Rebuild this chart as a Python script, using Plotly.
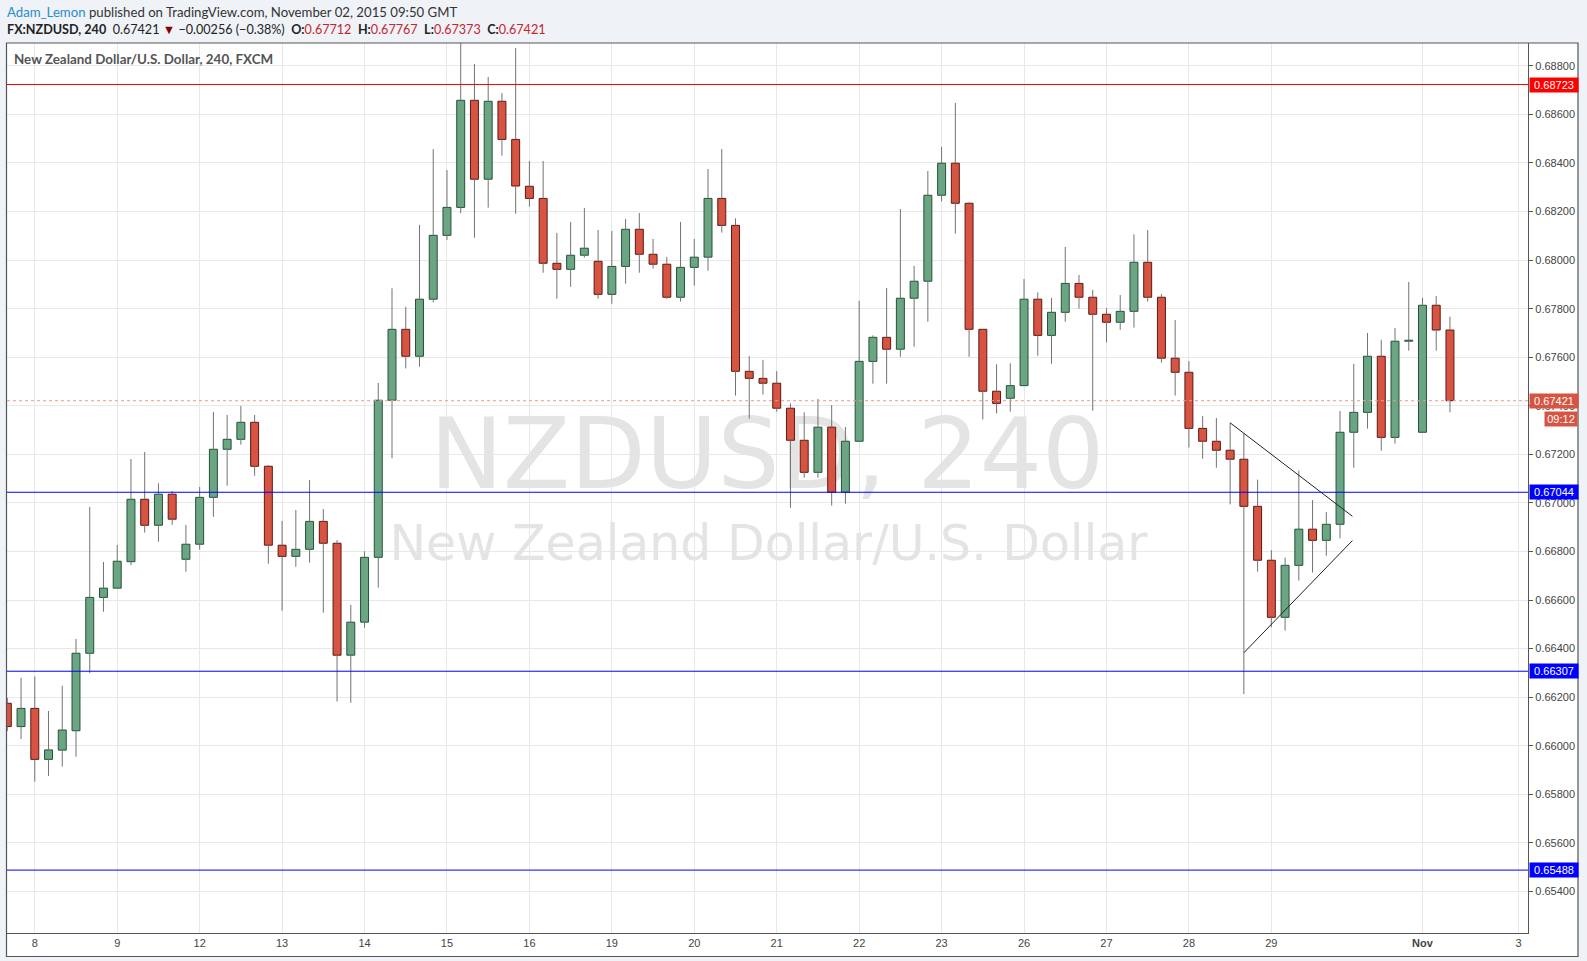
import plotly.graph_objects as go

# ---------------- data (NZDUSD, 4h candles, Oct 7 - Nov 2 2015) ----------------
opens = [0.66175, 0.66079, 0.66154, 0.65944, 0.65982, 0.66062, 0.66381, 0.66611, 0.66649, 0.66758,
         0.67015, 0.66908, 0.67036, 0.66768, 0.66830, 0.67023, 0.67221, 0.67262, 0.67332, 0.67151,
         0.66826, 0.66780, 0.66809, 0.66924, 0.66834, 0.66373, 0.66509, 0.66776, 0.67423, 0.67715,
         0.67604, 0.67839, 0.68102, 0.68217, 0.68658, 0.68333, 0.68654, 0.68497, 0.68304, 0.68254,
         0.67987, 0.67962, 0.68020, 0.67995, 0.67859, 0.67974, 0.68127, 0.68024, 0.67983, 0.67847,
         0.67970, 0.68012, 0.68254, 0.68143, 0.67542, 0.67513, 0.67493, 0.67390, 0.67258, 0.67126,
         0.67312, 0.67044, 0.67254, 0.67583, 0.67682, 0.67633, 0.67843, 0.67913, 0.68267, 0.68399,
         0.68234, 0.67715, 0.67460, 0.67431, 0.67483, 0.67839, 0.67690, 0.67785, 0.67904, 0.67847,
         0.67777, 0.67744, 0.67789, 0.67991, 0.67847, 0.67596, 0.67538, 0.67307, 0.67254, 0.67217,
         0.67180, 0.66986, 0.66764, 0.66529, 0.66743, 0.66892, 0.66846, 0.66912, 0.67291, 0.67373,
         0.67604, 0.67270, 0.67666, 0.67291, 0.67814, 0.67712]
highs = [0.66197, 0.66280, 0.66285, 0.66143, 0.66247, 0.66440, 0.66983, 0.66757, 0.66827, 0.67181,
         0.67210, 0.67081, 0.67049, 0.66909, 0.67066, 0.67375, 0.67362, 0.67399, 0.67362, 0.67156,
         0.66926, 0.66971, 0.67094, 0.66975, 0.66847, 0.66580, 0.66801, 0.67494, 0.67884, 0.67808,
         0.68145, 0.68457, 0.68371, 0.68930, 0.68808, 0.68754, 0.68688, 0.68873, 0.68408, 0.68408,
         0.68112, 0.68157, 0.68215, 0.68124, 0.68120, 0.68169, 0.68194, 0.68087, 0.68013, 0.68157,
         0.68087, 0.68375, 0.68457, 0.68172, 0.67605, 0.67589, 0.67543, 0.67410, 0.67373, 0.67428,
         0.67403, 0.67313, 0.67832, 0.67690, 0.67885, 0.68210, 0.67976, 0.68367, 0.68466, 0.68647,
         0.68238, 0.67716, 0.67571, 0.67575, 0.67922, 0.67867, 0.67844, 0.68054, 0.67939, 0.67877,
         0.67802, 0.67856, 0.68106, 0.68124, 0.67860, 0.67753, 0.67584, 0.67358, 0.67350, 0.67330,
         0.67287, 0.67096, 0.66806, 0.66775, 0.67133, 0.67012, 0.66963, 0.67379, 0.67573, 0.67700,
         0.67672, 0.67720, 0.67910, 0.67844, 0.67852, 0.67767]
lows = [0.66061, 0.66028, 0.65852, 0.65876, 0.65914, 0.65955, 0.66299, 0.66552, 0.66648, 0.66744,
        0.66878, 0.66840, 0.66910, 0.66717, 0.66808, 0.66943, 0.67071, 0.67240, 0.67112, 0.66750,
        0.66556, 0.66737, 0.66754, 0.66548, 0.66182, 0.66177, 0.66486, 0.66651, 0.67184, 0.67554,
        0.67561, 0.67826, 0.68083, 0.68193, 0.68092, 0.68216, 0.68430, 0.68191, 0.68220, 0.67948,
        0.67841, 0.67890, 0.68010, 0.67841, 0.67820, 0.67903, 0.67948, 0.67965, 0.67841, 0.67829,
        0.67895, 0.67956, 0.68113, 0.67442, 0.67347, 0.67446, 0.67376, 0.66980, 0.67104, 0.67104,
        0.66989, 0.66997, 0.67253, 0.67491, 0.67491, 0.67602, 0.67643, 0.67746, 0.68242, 0.68109,
        0.67602, 0.67344, 0.67369, 0.67376, 0.67482, 0.67606, 0.67573, 0.67746, 0.67800, 0.67380,
        0.67661, 0.67713, 0.67722, 0.67829, 0.67578, 0.67442, 0.67228, 0.67182, 0.67145, 0.66994,
        0.66213, 0.66717, 0.66488, 0.66474, 0.66680, 0.66713, 0.66783, 0.66854, 0.67145, 0.67306,
        0.67215, 0.67244, 0.67627, 0.67290, 0.67627, 0.67373]
closes = [0.66079, 0.66154, 0.65944, 0.65983, 0.66065, 0.66381, 0.66611, 0.66649, 0.66760, 0.67015,
          0.66908, 0.67036, 0.66933, 0.66830, 0.67023, 0.67221, 0.67262, 0.67332, 0.67151, 0.66826,
          0.66780, 0.66809, 0.66924, 0.66834, 0.66373, 0.66509, 0.66776, 0.67423, 0.67715, 0.67604,
          0.67839, 0.68102, 0.68217, 0.68658, 0.68333, 0.68654, 0.68497, 0.68305, 0.68254, 0.67987,
          0.67962, 0.68020, 0.68049, 0.67859, 0.67974, 0.68127, 0.68024, 0.67983, 0.67847, 0.67970,
          0.68012, 0.68254, 0.68143, 0.67542, 0.67513, 0.67493, 0.67390, 0.67258, 0.67126, 0.67312,
          0.67044, 0.67254, 0.67583, 0.67682, 0.67633, 0.67843, 0.67913, 0.68267, 0.68399, 0.68234,
          0.67715, 0.67460, 0.67410, 0.67483, 0.67839, 0.67690, 0.67785, 0.67904, 0.67847, 0.67777,
          0.67744, 0.67789, 0.67991, 0.67847, 0.67596, 0.67538, 0.67307, 0.67254, 0.67217, 0.67180,
          0.66986, 0.66764, 0.66529, 0.66743, 0.66892, 0.66846, 0.66912, 0.67291, 0.67373, 0.67604,
          0.67270, 0.67666, 0.67670, 0.67814, 0.67712, 0.67421]

# day labels (candle index of first bar of each day)
tick_index = [2, 8, 14, 20, 26, 32, 38, 44, 50, 56, 62, 68, 74, 80, 86, 92, 103, 110]
tick_text = ["8", "9", "12", "13", "14", "15", "16", "19", "20", "21", "22", "23", "26", "27",
             "28", "29", "<b>Nov</b>", "3"]

# horizontal levels drawn on the chart
resistance_level = 0.68723
support_levels = [0.67044, 0.66307, 0.65488]
last_price = 0.67421
countdown_text = "09:12"

# triangle drawing (candle index, price)
tri_upper_x = [89.0, 97.9]
tri_upper_y = [0.67330, 0.66945]
tri_lower_x = [90.0, 97.9]
tri_lower_y = [0.66383, 0.66845]

price_ticks = [0.654 + 0.002 * k for k in range(18)]

# ---------------- styling ----------------
W, H = 1587, 961
L, R, T, B = 7, 59, 43, 28
PW, PH = W - L - R, H - T - B

def xp(px):
    return (px - L) / PW

def yp(py):
    return (H - B - py) / PH

GREEN, GREEN_LINE = "#6ba583", "#225437"
RED, RED_LINE = "#d75442", "#5b1a13"
WICK = "#737375"
AX = "#555555"
GRID = "#e8e8e8"
BG = "#eff2f6"

idx = list(range(len(opens)))
is_up = [c >= o for o, c in zip(opens, closes)]
bases = [min(o, c) for o, c in zip(opens, closes)]
heights = [max(abs(c - o), 0.00003) for o, c in zip(opens, closes)]

wx, wy = [], []
for i, o, h, l, c in zip(idx, opens, highs, lows, closes):
    wx += [i, i, None, i, i, None]
    wy += [h, max(o, c), None, min(o, c), l, None]

xr = [-0.022, 110.68]
yr = [0.65229, 0.68894]

fig = go.Figure()

# watermark on the base axes (drawn beneath the candles)
fig.add_trace(go.Scatter(
    x=[55.3], y=[0.67162], mode="text", text=["NZDUSD, 240"],
    textfont=dict(family="DejaVu Sans", size=98, color="#e4e4e4"),
    textposition="middle center", hoverinfo="skip", showlegend=False, xaxis="x", yaxis="y"))
fig.add_trace(go.Scatter(
    x=[55.4], y=[0.66814], mode="text", text=["New Zealand Dollar/U.S. Dollar"],
    textfont=dict(family="DejaVu Sans", size=49, color="#e4e4e4"),
    textposition="middle center", hoverinfo="skip", showlegend=False, xaxis="x", yaxis="y"))

# candles on overlay axes
fig.add_trace(go.Scatter(
    x=wx, y=wy, mode="lines", line=dict(color=WICK, width=1),
    hoverinfo="skip", showlegend=False, xaxis="x2", yaxis="y2"))
fig.add_trace(go.Bar(
    x=idx, y=heights, base=bases, width=0.58,
    marker=dict(color=[GREEN if u else RED for u in is_up],
                line=dict(color=[GREEN_LINE if u else RED_LINE for u in is_up], width=1)),
    hoverinfo="skip", showlegend=False, xaxis="x2", yaxis="y2"))

# triangle drawing
fig.add_trace(go.Scatter(x=tri_upper_x, y=tri_upper_y, mode="lines",
                         line=dict(color="#222222", width=1), hoverinfo="skip",
                         showlegend=False, xaxis="x2", yaxis="y2"))
fig.add_trace(go.Scatter(x=tri_lower_x, y=tri_lower_y, mode="lines",
                         line=dict(color="#222222", width=1), hoverinfo="skip",
                         showlegend=False, xaxis="x2", yaxis="y2"))

shapes = [
    dict(type="rect", xref="paper", yref="paper", x0=xp(6.5), x1=xp(1578), y0=yp(956.5), y1=yp(43),
         fillcolor="white", line=dict(width=0), layer="below"),
    dict(type="rect", xref="paper", yref="paper", x0=xp(6.5), x1=xp(1578), y0=yp(956.5), y1=yp(43),
         fillcolor="rgba(0,0,0,0)", line=dict(color=AX, width=1.2), layer="above"),
    dict(type="line", xref="paper", yref="y", x0=0, x1=1, y0=last_price, y1=last_price,
         line=dict(color="#eb9a90", width=1, dash="dot"), layer="above"),
    dict(type="line", xref="paper", yref="y", x0=0, x1=1, y0=resistance_level, y1=resistance_level,
         line=dict(color="#ff0000", width=1), layer="above"),
]
for lv in support_levels:
    shapes.append(dict(type="line", xref="paper", yref="y", x0=0, x1=1, y0=lv, y1=lv,
                       line=dict(color="#0000ff", width=1), layer="above"))

annotations = []

def price_box(val, bg, yshift=0, text=None, width=46):
    annotations.append(dict(
        xref="paper", yref="y", x=1, y=val, xanchor="left", yanchor="middle",
        text=text if text is not None else f"{val:.5f}", showarrow=False,
        font=dict(family="Liberation Sans, Arial", size=11, color="white"),
        bgcolor=bg, width=width, height=12, borderpad=1, yshift=yshift, xshift=1, align="center"))

price_box(resistance_level, "#ff0000")
for lv in support_levels:
    price_box(lv, "#0000ff")
price_box(last_price, "#d75442")
annotations.append(dict(
    xref="paper", yref="y", x=xp(1578), y=last_price, xanchor="right", yanchor="middle",
    text=countdown_text, showarrow=False,
    font=dict(family="Liberation Sans, Arial", size=11, color="white"),
    bgcolor="#d75442", width=30, height=12, borderpad=1, yshift=-18, align="center"))

# titles
annotations.append(dict(
    xref="paper", yref="paper", x=xp(12), y=yp(59), xanchor="left", yanchor="middle",
    text="<b>New Zealand Dollar/U.S. Dollar, 240, FXCM</b>", showarrow=False,
    font=dict(family="Lato", size=13.4, color="#555555")))
annotations.append(dict(
    xref="paper", yref="paper", x=xp(5), y=yp(12), xanchor="left", yanchor="middle",
    text='<span style="color:#2a8bce">Adam_Lemon</span> published on TradingView.com, November 02, 2015 09:50 GMT',
    showarrow=False, font=dict(family="Lato", size=13.2, color="#333333")))
vred = "#c4262b"
annotations.append(dict(
    xref="paper", yref="paper", x=xp(5), y=yp(30), xanchor="left", yanchor="middle",
    text=('<b>FX:NZDUSD, 240</b>  0.67421 <span style="color:#8b0000">\u25bc</span> \u22120.00256 (\u22120.38%)  '
          f'<b>O:</b><span style="color:{vred}">0.67712</span>  <b>H:</b><span style="color:{vred}">0.67767</span>  '
          f'<b>L:</b><span style="color:{vred}">0.67373</span>  <b>C:</b><span style="color:{vred}">0.67421</span>'),
    showarrow=False, font=dict(family="Lato", size=12.6, color="#222222")))

fig.update_layout(
    width=W, height=H, margin=dict(l=L, r=R, t=T, b=B, pad=0, autoexpand=False),
    paper_bgcolor=BG, plot_bgcolor="white", showlegend=False, barmode="overlay",
    shapes=shapes, annotations=annotations,
    xaxis=dict(range=xr, tickvals=tick_index, ticktext=tick_text, showgrid=True, gridcolor=GRID,
               gridwidth=1, zeroline=False, showline=True, linecolor=AX, linewidth=1.2, ticks="",
               automargin=False,
               tickfont=dict(family="Liberation Sans, Arial", size=11, color="#444444"), fixedrange=True),
    yaxis=dict(range=yr, side="right", tickvals=price_ticks, tickformat=".5f", showgrid=True,
               gridcolor=GRID, gridwidth=1, zeroline=False, showline=True, linecolor=AX, linewidth=1.2,
               ticks="outside", ticklen=4, tickcolor=AX, automargin=False,
               tickfont=dict(family="Liberation Sans, Arial", size=11, color="#444444"), fixedrange=True),
    xaxis2=dict(range=xr, overlaying="x", visible=False, fixedrange=True, automargin=False),
    yaxis2=dict(range=yr, overlaying="y", visible=False, fixedrange=True, automargin=False),
)

page_css = ("document.body.style.margin='0';document.body.style.padding='0';"
            "document.body.style.overflow='hidden';document.body.style.background='%s';" % BG)
fig.write_html("out.html", post_script=page_css, config={"displayModeBar": False})
